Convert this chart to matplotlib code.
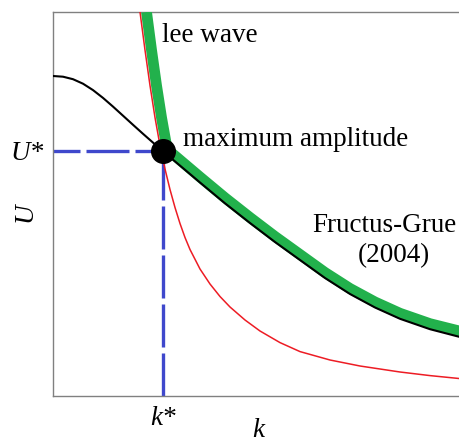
import matplotlib
matplotlib.use("Agg")
import matplotlib.pyplot as plt

# values (k along x, U up)
k_star = 1.10
U_star = 2.45

# Fructus-Grue (2004) curve, black
k_fg = [0.00, 0.10, 0.20, 0.30, 0.40, 0.50, 0.60, 0.70, 0.80, 0.90, 1.00, 1.10,
        1.34, 1.47, 1.72, 1.97, 2.22, 2.47, 2.72, 2.97, 3.22, 3.47, 3.77, 4.07]
U_fg = [3.200, 3.193, 3.168, 3.123, 3.059, 2.981, 2.894, 2.803, 2.712, 2.622, 2.534, 2.447,
        2.245, 2.135, 1.927, 1.730, 1.540, 1.360, 1.180, 1.020, 0.885, 0.772, 0.668, 0.590]

# lee wave curve, red
k_lee = [0.87, 0.92, 0.97, 1.02, 1.07, 1.12, 1.17, 1.22, 1.27, 1.32, 1.37, 1.47,
         1.57, 1.67, 1.77, 1.92, 2.07, 2.27, 2.47, 2.77, 3.07, 3.47, 3.77, 4.07]
U_lee = [3.840, 3.460, 3.105, 2.785, 2.505, 2.270, 2.065, 1.885, 1.725, 1.585, 1.465, 1.270,
         1.120, 0.995, 0.890, 0.760, 0.650, 0.534, 0.444, 0.360, 0.300, 0.240, 0.204, 0.174]

# upper envelope, thick green
k_env = [0.935, 0.985, 1.035, 1.085, 1.135, 1.15, 1.24, 1.34, 1.47, 1.72, 1.97, 2.22,
         2.47, 2.72, 2.97, 3.22, 3.47, 3.77, 4.07]
U_env = [3.840, 3.460, 3.105, 2.785, 2.505, 2.460, 2.385, 2.300, 2.190, 1.982, 1.785, 1.595,
         1.415, 1.235, 1.075, 0.940, 0.827, 0.723, 0.648]

plt.rcParams['font.family'] = ['Liberation Serif', 'DejaVu Serif']

fig = plt.figure(figsize=(4.6, 4.42), dpi=100)
ax = fig.add_axes([53/460, 46/442, 407/460, 384/442])

blue = '#3f48cc'
ax.plot([0, k_star], [U_star, U_star], color=blue, lw=2.4,
        linestyle=(4.8, (12.9, 1.8)), zorder=2)
ax.plot([k_star, k_star], [0, U_star], color=blue, lw=2.4,
        linestyle=(0, (12.9, 1.8)), zorder=2)

ax.plot(k_env, U_env, color='#22b14c', lw=7.8, solid_capstyle='butt',
        solid_joinstyle='round', zorder=3)
ax.plot(k_fg, U_fg, color='black', lw=1.5, zorder=4)
ax.plot(k_lee, U_lee, color='#ed1c24', lw=1.1, zorder=4)
ax.plot([k_star], [U_star], 'o', color='black', ms=17, zorder=5)

fs = 19.5
ax.text(1.09, 3.54, 'lee wave', fontsize=fs, va='baseline')
ax.text(1.30, 2.50, 'maximum amplitude', fontsize=fs, va='baseline')
ax.text(3.31, 1.64, 'Fructus-Grue', fontsize=fs, ha='center', va='baseline')
ax.text(3.41, 1.34, '(2004)', fontsize=fs, ha='center', va='baseline')

ax.set_xlim(0, 4.07)
ax.set_ylim(0, 3.84)
ax.set_xticks([k_star])
ax.set_xticklabels(['k*'], fontsize=fs, style='italic')
ax.set_yticks([U_star])
ax.set_yticklabels(['U*'], fontsize=fs, style='italic')
ax.tick_params(length=0)
ax.tick_params(axis='x', pad=7)
ax.tick_params(axis='y', pad=7)
ax.set_xlabel('k', fontsize=fs, style='italic')
ax.set_ylabel('U', fontsize=fs, style='italic')
ax.xaxis.set_label_coords(0.504, -0.058)
ax.yaxis.set_label_coords(-0.038, 0.479)

for s in ['left', 'top', 'bottom']:
    ax.spines[s].set_color('#808080')
    ax.spines[s].set_linewidth(1.0)
ax.spines['right'].set_visible(False)

fig.savefig('out.png', dpi=100)
